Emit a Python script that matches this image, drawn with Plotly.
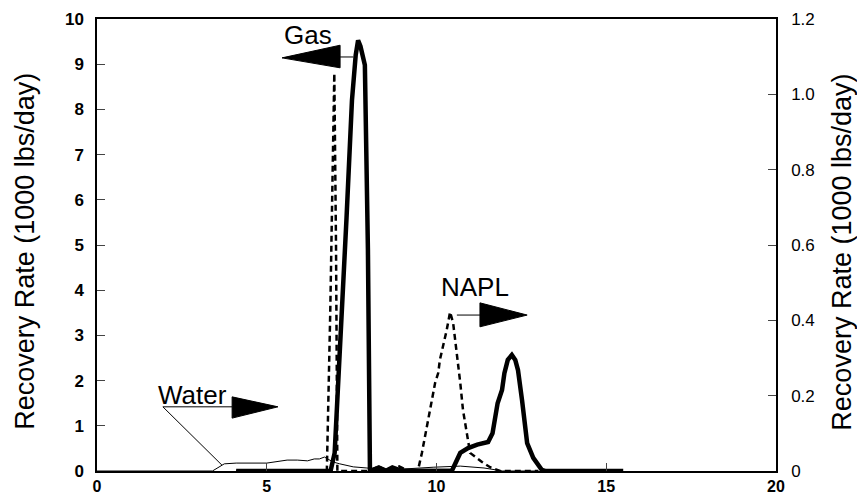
import plotly.graph_objects as go

# ---------------- data ----------------
# Water (thin line, right axis)
water_x = [0, 3.4, 3.75, 4.1, 5.0, 5.3, 5.6, 5.9, 6.2, 6.4, 6.55, 6.7, 6.95, 7.15,
           7.55, 7.95, 8.4, 8.8, 9.4, 9.9, 10.7, 11.4, 11.95, 13.0]
water_y = [0, 0, 0.019, 0.021, 0.021, 0.024, 0.029, 0.029, 0.027, 0.032, 0.032, 0.037,
           0.024, 0.019, 0.011, 0.008, 0.004, 0.004, 0.008, 0.010, 0.013, 0.008, 0, 0]

# Gas, case A (thick solid, left axis)
gas_solid_x = [4.1, 6.88, 7.0, 7.25, 7.35, 7.51, 7.62, 7.69, 7.76, 7.89, 7.98, 8.04,
               8.3, 8.5, 8.7, 9.0, 10.45]
gas_solid_y = [0, 0, 0.4, 3.8, 5.6, 8.2, 9.2, 9.53, 9.4, 8.98, 4.9, 0,
               0.08, 0, 0.08, 0, 0]

# Gas, case B (dashed, left axis)
gas_dash_x = [4.1, 6.77, 6.87, 6.93, 6.99, 7.04, 7.08, 8.0, 8.3, 8.6, 8.9, 9.2, 9.45]
gas_dash_y = [0, 0, 3.5, 6.0, 8.8, 5.0, 0, 0, 0.1, 0, 0.1, 0, 0]

# NAPL, case B (dashed, right axis)
napl_dash_x = [9.0, 9.45, 9.57, 9.8, 9.96, 10.05, 10.1, 10.3, 10.4, 10.49, 10.6, 10.7,
               10.78, 10.9, 10.99, 11.34, 11.58, 11.87, 13.0]
napl_dash_y = [0, 0, 0.048, 0.154, 0.234, 0.26, 0.295, 0.374, 0.422, 0.393, 0.313, 0.234,
               0.162, 0.09, 0.048, 0.024, 0.01, 0, 0]

# NAPL, case A (thick solid, right axis)
napl_solid_x = [8.0, 10.45, 10.7, 10.93, 11.2, 11.52, 11.65, 11.8, 11.93, 12.0, 12.1,
                12.22, 12.32, 12.4, 12.52, 12.67, 12.85, 13.1, 13.2, 15.5]
napl_solid_y = [0, 0, 0.048, 0.061, 0.07, 0.077, 0.1, 0.18, 0.215, 0.26, 0.295,
                0.308, 0.295, 0.268, 0.188, 0.074, 0.035, 0.003, 0, 0]

x_ticks = [0, 5, 10, 15, 20]
left_ticks = list(range(0, 11))
right_ticks = [0, 0.2, 0.4, 0.6, 0.8, 1.0, 1.2]
right_ticktext = ["0", "0.2", "0.4", "0.6", "0.8", "1.0", "1.2"]
axis_title = "Recovery Rate (1000 lbs/day)"

FONT = "Liberation Sans, Arial, sans-serif"

fig = go.Figure()
fig.add_trace(go.Scatter(x=water_x, y=water_y, yaxis="y2", mode="lines",
                         line=dict(color="black", width=1)))
fig.add_trace(go.Scatter(x=gas_dash_x, y=gas_dash_y, mode="lines",
                         line=dict(color="black", width=2.5, dash="6px,4px")))
fig.add_trace(go.Scatter(x=napl_dash_x, y=napl_dash_y, yaxis="y2", mode="lines",
                         line=dict(color="black", width=2.5, dash="6px,4px")))
fig.add_trace(go.Scatter(x=gas_solid_x, y=gas_solid_y, mode="lines",
                         line=dict(color="black", width=4.5)))
fig.add_trace(go.Scatter(x=napl_solid_x, y=napl_solid_y, yaxis="y2", mode="lines",
                         line=dict(color="black", width=4.5)))

# label arrows (drawn in left-axis data coordinates)
shapes = [
    # Gas: filled triangle pointing left + leader
    dict(type="path", xref="x", yref="y", path="M 5.45,9.14 L 7.16,9.42 L 7.16,8.92 Z",
         fillcolor="black", line=dict(color="black", width=1)),
    dict(type="line", xref="x", yref="y", x0=7.16, y0=9.16, x1=7.55, y1=9.16,
         line=dict(color="black", width=1)),
    # Water: underline + diagonal leader + triangle pointing right
    dict(type="line", xref="x", yref="y", x0=1.94, y0=1.42, x1=3.98, y1=1.42,
         line=dict(color="black", width=1)),
    dict(type="line", xref="x", yref="y", x0=1.94, y0=1.42, x1=3.68, y1=0.13,
         line=dict(color="black", width=1)),
    dict(type="path", xref="x", yref="y", path="M 3.98,1.64 L 5.33,1.42 L 3.98,1.17 Z",
         fillcolor="black", line=dict(color="black", width=1)),
    # NAPL: leader + triangle pointing right
    dict(type="line", xref="x", yref="y", x0=10.6, y0=3.45, x1=11.28, y1=3.45,
         line=dict(color="black", width=1)),
    dict(type="path", xref="x", yref="y", path="M 11.28,3.72 L 12.67,3.45 L 11.28,3.19 Z",
         fillcolor="black", line=dict(color="black", width=1)),
]

label_font = dict(size=26, family=FONT, color="black")
title_font = dict(size=27, family=FONT, color="black")
annotations = [
    dict(text="Gas", x=6.21, y=9.65, xref="x", yref="y", showarrow=False, font=label_font),
    dict(text="Water", x=2.8, y=1.68, xref="x", yref="y", showarrow=False, font=label_font),
    dict(text="NAPL", x=11.14, y=4.08, xref="x", yref="y", showarrow=False, font=label_font),
    dict(text=axis_title, x=-0.106, y=0.485, xref="paper", yref="paper", textangle=-90,
         showarrow=False, xanchor="center", yanchor="middle", font=title_font),
    dict(text=axis_title, x=1.097, y=0.485, xref="paper", yref="paper", textangle=-90,
         showarrow=False, xanchor="center", yanchor="middle", font=title_font),
]

tick_bold = dict(size=17, family=FONT, color="black", weight="bold")
tick_x = dict(size=16, family=FONT, color="black", weight="bold")
tick_plain = dict(size=17, family=FONT, color="black")

# The page body adds an 8px offset, so the figure is sized 8px smaller
fig.update_layout(
    width=857, height=489,
    margin=dict(l=89, r=89, t=11, b=26, pad=0),
    paper_bgcolor="white", plot_bgcolor="white",
    showlegend=False,
    font=dict(family=FONT, color="black"),
    shapes=shapes, annotations=annotations,
    xaxis=dict(range=[0, 20], tickvals=x_ticks, ticks="inside", ticklen=8,
               showline=True, linecolor="black", linewidth=1.5, mirror=True,
               showgrid=False, zeroline=False, tickfont=tick_x,
               automargin=False, ticklabelstandoff=0),
    yaxis=dict(range=[0, 10], tickvals=left_ticks, ticks="inside", ticklen=8,
               showline=True, linecolor="black", linewidth=1.5,
               showgrid=False, zeroline=False, tickfont=tick_bold,
               automargin=False, ticklabelstandoff=8),
    yaxis2=dict(range=[0, 1.2], tickvals=right_ticks, ticktext=right_ticktext,
                overlaying="y", side="right", ticks="inside", ticklen=8,
                showline=True, linecolor="black", linewidth=1.5,
                showgrid=False, zeroline=False, tickfont=tick_plain,
                automargin=False, ticklabelstandoff=10),
)

fig.write_html("out.html")
